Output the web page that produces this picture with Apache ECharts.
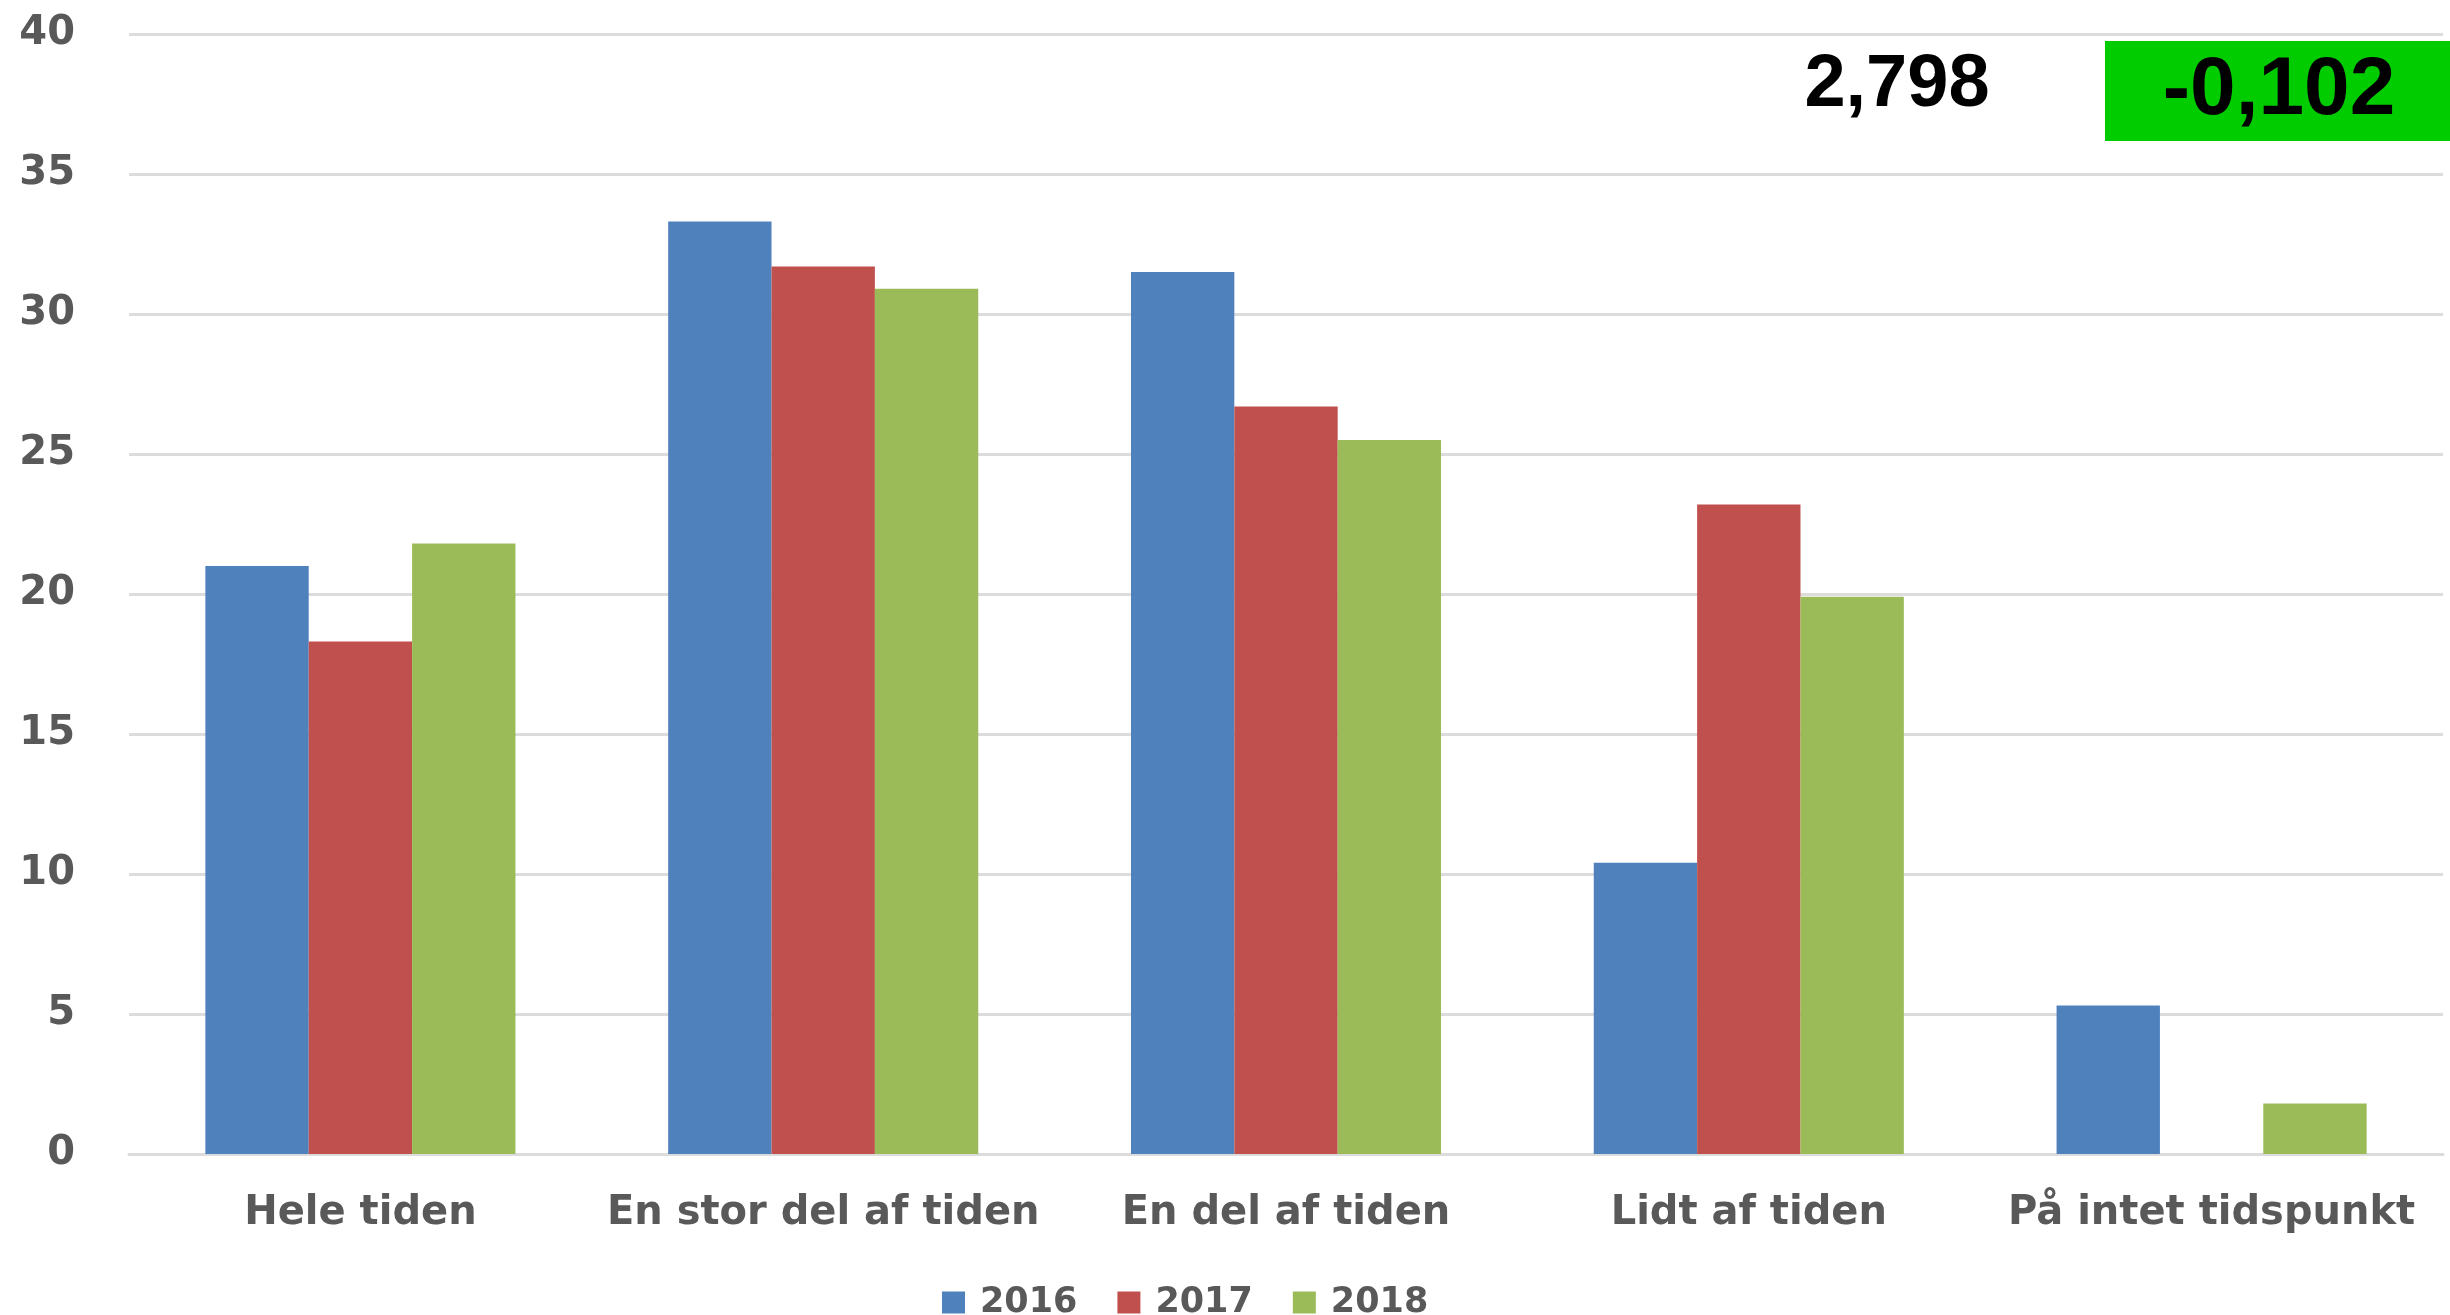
<!DOCTYPE html>
<html>
<head>
<meta charset="utf-8">
<script src="https://cdn.jsdelivr.net/npm/echarts@6/dist/echarts.min.js"></script>
<style>
html,body{margin:0;padding:0;background:#fff;}
#c{width:2450px;height:1315px;}
</style>
</head>
<body>
<div id="c"></div>
<script>
const categories = ['Hele tiden', 'En stor del af tiden', 'En del af tiden', 'Lidt af tiden', 'På intet tidspunkt'];
const seriesNames = ['2016', '2017', '2018'];
const values2016 = [21.0, 33.3, 31.5, 10.4, 5.3];
const values2017 = [18.3, 31.7, 26.7, 23.2, null];
const values2018 = [21.8, 30.9, 25.5, 19.9, 1.8];
const seriesColors = ['#4f81bd', '#c0504d', '#9bbb59'];
const scoreText = '2,798';
const changeText = '-0,102';

const chart = echarts.init(document.getElementById('c'), null, {renderer: 'canvas'});
const labelFont = 'DejaVu Sans';
const gray = '#595959';
const gridColor = '#dcdcdc';

const allValues = [values2016, values2017, values2018];

chart.setOption({
  animation: false,
  backgroundColor: '#ffffff',
  color: seriesColors,
  grid: {left: 129, right: 7, top: 34, bottom: 161, containLabel: false},
  legend: {
    data: seriesNames,
    left: 937,
    top: 1280,
    itemWidth: 23,
    itemHeight: 22,
    itemGap: 40,
    icon: 'rect',
    textStyle: {fontFamily: labelFont, fontWeight: 'bold', fontSize: 35, color: gray, padding: [0, 0, 0, 10]}
  },
  xAxis: {
    type: 'category',
    data: categories,
    axisTick: {show: false},
    axisLine: {show: true, lineStyle: {color: gridColor, width: 3}},
    axisLabel: {fontFamily: labelFont, fontWeight: 'bold', fontSize: 40, color: gray, margin: 40, interval: 0}
  },
  yAxis: {
    type: 'value',
    min: 0,
    max: 40,
    interval: 5,
    axisLine: {show: false},
    axisTick: {show: false},
    splitLine: {lineStyle: {color: gridColor, width: 3}},
    axisLabel: {fontFamily: labelFont, fontWeight: 'bold', fontSize: 40, color: gray, margin: 54}
  },
  series: seriesNames.map((name, i) => ({
    name: name,
    type: 'bar',
    data: allValues[i],
    barGap: '0%',
    barCategoryGap: '33%',
    itemStyle: {color: seriesColors[i]}
  })),
  graphic: [
    {
      type: 'rect',
      shape: {x: 2105, y: 41, width: 345, height: 100},
      style: {fill: '#00cc00'},
      z: 100
    },
    {
      type: 'text',
      style: {
        text: changeText, x: 2279, y: 91,
        fill: '#000', font: 'bold 82px "Liberation Sans", Arial, sans-serif',
        textAlign: 'center', textVerticalAlign: 'middle'
      },
      z: 101
    },
    {
      type: 'text',
      style: {
        text: scoreText, x: 1897, y: 86,
        fill: '#000', font: 'bold 74px "Liberation Sans", Arial, sans-serif',
        textAlign: 'center', textVerticalAlign: 'middle'
      },
      z: 101
    }
  ]
});
</script>
</body>
</html>
